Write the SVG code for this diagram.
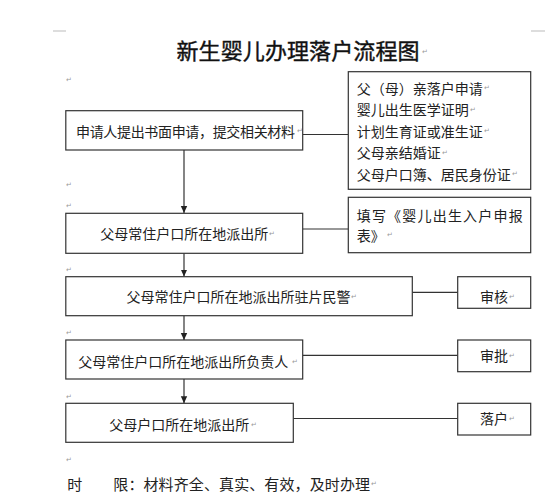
<svg xmlns="http://www.w3.org/2000/svg" width="559" height="500" viewBox="0 0 559 500">
<style>
.box{fill:#fff;stroke:#333;stroke-width:1.2}
.t{font-family:"Noto Sans CJK SC","Noto Sans",sans-serif;font-size:14px;fill:#222;dominant-baseline:central}
.title{font-family:"Noto Sans CJK SC","Noto Sans",sans-serif;font-size:22px;fill:#111;stroke:#111;stroke-width:0.4;dominant-baseline:central}
.pm{font-family:"DejaVu Sans",sans-serif;font-size:7px;fill:#999;dominant-baseline:central}
.ln{stroke:#333;stroke-width:1.2;fill:none}
.mk{stroke:#bbb;stroke-width:1}
</style>
<defs>
<marker id="ah" markerWidth="8" markerHeight="8" refX="7" refY="4" orient="auto" markerUnits="userSpaceOnUse">
<path d="M0,0.8 L7,4 L0,7.2 z" fill="#222"/>
</marker>
</defs>
<rect width="559" height="500" fill="#fff"/>
<line class="mk" x1="53" y1="31" x2="66" y2="31"/>
<line class="mk" x1="531" y1="31" x2="545" y2="31"/>
<g id="title">
<text class="title" x="176.5" y="48.5" textLength="243" lengthAdjust="spacing">新生婴儿办理落户流程图</text>
<text class="pm" x="422" y="52">↵</text>
</g>
<g id="marks">
<text class="pm" x="66" y="80">↵</text>
<text class="pm" x="66" y="185">↵</text>
<text class="pm" x="66" y="206">↵</text>
<text class="pm" x="66" y="270">↵</text>
<text class="pm" x="66" y="333">↵</text>
<text class="pm" x="66" y="397">↵</text>
<text class="pm" x="66" y="460">↵</text>
</g>
<g id="connectors">
<line class="ln" x1="184" y1="150" x2="184" y2="213" marker-end="url(#ah)"/>
<line class="ln" x1="184" y1="253.3" x2="184" y2="276.5" marker-end="url(#ah)"/>
<line class="ln" x1="184" y1="315.7" x2="184" y2="340" marker-end="url(#ah)"/>
<line class="ln" x1="184" y1="379" x2="184" y2="403.2" marker-end="url(#ah)"/>
<line class="ln" x1="302.7" y1="134.5" x2="348.3" y2="134.5"/>
<line class="ln" x1="302.7" y1="229" x2="348.3" y2="229"/>
<line class="ln" x1="412.3" y1="292.3" x2="457.7" y2="292.3"/>
<line class="ln" x1="302.7" y1="355.3" x2="457.7" y2="355.3"/>
<line class="ln" x1="293.3" y1="418.5" x2="457.7" y2="418.5"/>
</g>
<g id="n1">
<rect class="box" x="65.8" y="110.7" width="236.9" height="39.3"/>
<text class="t" x="76" y="130.7" textLength="219" lengthAdjust="spacing">申请人提出书面申请，提交相关材料</text>
<text class="pm" x="297" y="131">↵</text>
</g>
<g id="n1r">
<rect class="box" x="348.3" y="71.7" width="182.4" height="117.6"/>
<text class="t" x="356.7" y="87.5">父（母）亲落户申请</text>
<text class="pm" x="484" y="88">↵</text>
<text class="t" x="356.7" y="109">婴儿出生医学证明</text>
<text class="pm" x="470" y="109.5">↵</text>
<text class="t" x="356.7" y="130.5">计划生育证或准生证</text>
<text class="pm" x="484" y="131">↵</text>
<text class="t" x="356.7" y="152">父母亲结婚证</text>
<text class="pm" x="442" y="152.5">↵</text>
<text class="t" x="356.7" y="173.5">父母户口簿、居民身份证</text>
<text class="pm" x="512" y="174">↵</text>
</g>
<g id="n2">
<rect class="box" x="65.8" y="213.3" width="236.9" height="40"/>
<text class="t" x="100.3" y="233.3">父母常住户口所在地派出所</text>
<text class="pm" x="269" y="234">↵</text>
</g>
<g id="n2r">
<rect class="box" x="348.3" y="197.3" width="182.4" height="55.4"/>
<text class="t" x="356.7" y="214.5" textLength="166" lengthAdjust="spacing">填写《婴儿出生入户申报</text>
<text class="t" x="356.7" y="234.5">表》</text>
<text class="pm" x="387" y="235">↵</text>
</g>
<g id="n3">
<rect class="box" x="65.8" y="276.7" width="346.5" height="39"/>
<text class="t" x="126.6" y="296.3">父母常住户口所在地派出所驻片民警</text>
<text class="pm" x="351" y="297">↵</text>
</g>
<g id="n3r">
<rect class="box" x="457.7" y="276.7" width="73" height="31.6"/>
<text class="t" x="480" y="296">审核</text>
<text class="pm" x="509" y="297">↵</text>
</g>
<g id="n4">
<rect class="box" x="65.8" y="340" width="236.9" height="39"/>
<text class="t" x="78.3" y="361">父母常住户口所在地派出所负责人</text>
<text class="pm" x="292" y="362">↵</text>
</g>
<g id="n4r">
<rect class="box" x="457.7" y="340" width="73" height="31.7"/>
<text class="t" x="480" y="355">审批</text>
<text class="pm" x="509" y="356">↵</text>
</g>
<g id="n5">
<rect class="box" x="65.8" y="403.3" width="227.5" height="39"/>
<text class="t" x="109.3" y="423.5">父母户口所在地派出所</text>
<text class="pm" x="251" y="424.5">↵</text>
</g>
<g id="n5r">
<rect class="box" x="457.7" y="403.3" width="73" height="31.7"/>
<text class="t" x="480" y="417.5">落户</text>
<text class="pm" x="509" y="418.5">↵</text>
</g>
<g id="note">
<text class="t" x="67.3" y="483.3" style="font-size:15px">时</text>
<text class="t" x="113.3" y="483.3" style="font-size:15px" textLength="256.7" lengthAdjust="spacing">限：材料齐全、真实、有效，及时办理</text>
<text class="pm" x="371" y="484">↵</text>
</g>
</svg>
